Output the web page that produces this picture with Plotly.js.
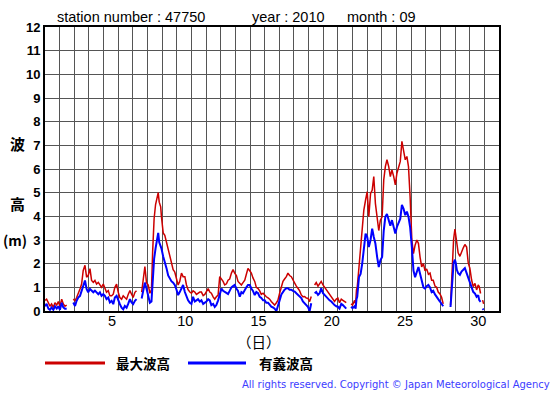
<!DOCTYPE html>
<html>
<head>
<meta charset="utf-8">
<script src="https://cdn.plot.ly/plotly-3.0.1.min.js"></script>
<style>
  html, body { margin: 0; padding: 0; background: #ffffff; }
  #chart { width: 555px; height: 395px; }
</style>
</head>
<body>
<div id="chart"></div>
<script>
// ---- data (days elapsed since 1 Sep 00:00, wave heights in m) ----
const elapsedDays = [
  0, 0.11, 0.23, 0.34, 0.45, 0.57, 0.68, 0.8, 0.91, 1.02, 1.14, 1.25, 1.36, 1.48, 1.7,
  1.93, 2.05, 2.16, 2.27, 2.39, 2.5, 2.61, 2.73, 2.84, 2.95,
  3.07, 3.18, 3.3, 3.41, 3.52, 3.64, 3.75, 3.86, 3.98, 4.09,
  4.2, 4.32, 4.43, 4.55, 4.66, 4.77, 4.89, 5.0, 5.11, 5.23,
  5.34, 5.45, 5.57, 5.68, 5.8, 5.91, 6.02, 6.14, 6.25, 6.4,
  6.6, 6.7, 6.82, 6.93, 7.05, 7.16, 7.27, 7.35, 7.45, 7.55,
  7.65, 7.73, 7.8, 7.9, 7.95, 8.07, 8.18, 8.3, 8.41, 8.52,
  8.64, 8.75, 8.86, 8.98, 9.09, 9.2, 9.32, 9.43, 9.55, 9.66,
  9.77, 9.89, 10.0, 10.11, 10.23, 10.34, 10.45, 10.57, 10.68, 10.8,
  10.91, 11.02, 11.14, 11.25, 11.36, 11.48, 11.59, 11.7, 11.82, 11.93,
  12.05, 12.16, 12.27, 12.39, 12.5, 12.61, 12.73, 12.84, 12.95, 13.07,
  13.18, 13.3, 13.41, 13.52, 13.64, 13.75, 13.86, 13.98, 14.09, 14.2,
  14.32, 14.43, 14.55, 14.66, 14.77, 14.89, 15.0, 15.11, 15.23, 15.34,
  15.45, 15.57, 15.68, 15.8, 15.9, 16.02, 16.14, 16.25, 16.36, 16.48,
  16.59, 16.7, 16.82, 16.93, 17.05, 17.16, 17.27, 17.39, 17.5, 17.61,
  17.73, 17.84, 17.95, 18.07, 18.18, 18.3,
  18.41, 18.52, 18.64, 18.75, 18.86, 18.98, 19.09, 19.2, 19.32, 19.43,
  19.55, 19.66, 19.77, 19.89, 20.0, 20.11, 20.23, 20.34, 20.45, 20.57, 20.68,
  20.9, 21.0, 21.14, 21.21, 21.27, 21.32, 21.44, 21.55, 21.66, 21.77,
  21.89, 22.0, 22.11, 22.23, 22.34, 22.45, 22.56, 22.68, 22.79, 22.9,
  23.02, 23.13, 23.24, 23.35, 23.47, 23.58, 23.69, 23.81, 23.92, 24.03,
  24.14, 24.26, 24.37, 24.48, 24.6, 24.71, 24.82, 24.93, 25.05, 25.16,
  25.27, 25.39, 25.5, 25.61, 25.72, 25.84, 25.95, 26.06, 26.18, 26.29,
  26.4, 26.51, 26.63, 26.74, 26.85, 26.97, 27.08, 27.19, 27.4,
  27.69, 27.76, 27.83, 27.9, 27.99, 28.05, 28.12, 28.21, 28.33, 28.44,
  28.56, 28.67, 28.79, 28.9, 29.01, 29.13, 29.24, 29.36, 29.47, 29.58,
  29.65, 29.74, 29.8, 29.88, 29.95
];
const maxWave = [
  0.45, 0.5, 0.35, 0.2, 0.3, 0.15, 0.35, 0.25, 0.4, 0.2, 0.5, 0.3, 0.2, 0.25, null,
  0.5, 0.43, 0.57, 0.79, 0.93, 1.14, 1.71, 1.93, 1.43, 1.5,
  1.79, 1.29, 1.21, 1.29, 1.14, 1.21, 1.07, 1.0, 1.14, 0.93,
  0.79, 0.86, 0.64, 0.64, 0.71, 1.0, 1.14, 0.79, 0.57, 0.5,
  0.64, 0.57, 0.5, 0.7, 0.86, 0.71, 0.57, 0.79, 0.86, null,
  0.8, 1.4, 1.88, 1.2, 1.1, 0.75, 0.9, 2.5, 3.9, 4.5,
  4.8, 5.0, 4.6, 4.4, 4.0, 3.3, 3.2, 2.9, 2.6, 2.3,
  1.95, 1.75, 1.65, 1.4, 1.1, 1.25, 1.6, 1.45, 1.45, 1.1,
  0.9, 0.8, 0.75, 0.85, 0.8, 0.7, 0.75, 0.8, 0.8, 0.65,
  0.7, 0.85, 0.95, 0.8, 0.75, 0.6, 0.5, 0.6, 0.67, 1.45,
  1.35, 1.25, 1.1, 1.15, 1.3, 1.35, 1.6, 1.75, 1.6, 1.5,
  1.25, 1.15, 1.1, 1.2, 1.3, 1.55, 1.8, 1.7, 1.6, 1.4,
  1.25, 1.0, 0.95, 0.85, 0.7, 0.75, 0.65, 0.6, 0.55, 0.5,
  0.4, 0.3, 0.25, 0.35, 0.45, 0.75, 1.05, 1.25, 1.35, 1.45,
  1.6, 1.5, 1.45, 1.3, 1.18, 1.05, 0.96, 0.85, 0.68, 0.6,
  0.61, 0.55, 0.54, 0.4, 0.61, null,
  1.1, 1.2, 1.05, 1.15, 1.25, 1.1, 1.0, 0.9, 0.82, 0.7,
  0.61, 0.5, 0.4, 0.5, 0.54, 0.35, 0.5, 0.45, 0.4, 0.35, null,
  0.3, 0.25, 0.45, 0.3, 0.9, 1.0, 1.86, 2.56, 3.4, 4.26,
  4.69, 5.04, 3.98, 4.97, 5.1, 5.68, 4.55, 3.98, 3.4, 3.84,
  3.98, 5.54, 6.1, 6.39, 6.1, 5.68, 5.96, 5.68, 5.33, 5.82,
  6.1, 6.32, 7.17, 6.81, 6.39, 6.53, 6.1, 4.83, 3.0, 2.42,
  2.78, 3.0, 2.85, 2.28, 1.86, 2.0, 1.7, 1.78, 1.55, 1.6,
  1.3, 1.3, 1.05, 1.0, 0.8, 0.72, 0.58, 0.3, null,
  0.25, 1.03, 2.17, 3.03, 3.46, 3.17, 2.74, 2.46, 2.31, 2.52,
  2.67, 2.81, 2.7, 2.03, 1.81, 1.31, 1.03, 1.17, 0.89, 1.1,
  1.03, 0.74, null, 0.46, 0.3
];
const sigWave = [
  0.2, 0.3, 0.1, 0.05, 0.15, 0.05, 0.2, 0.1, 0.2, 0.05, 0.35, 0.15, 0.1, 0.1, null,
  0.36, 0.21, 0.43, 0.57, 0.64, 0.86, 1.14, 1.29, 0.93, 0.79,
  0.93, 0.86, 0.79, 0.86, 0.79, 0.71, 0.79, 0.64, 0.71, 0.64,
  0.5, 0.57, 0.36, 0.43, 0.29, 0.57, 0.64, 0.43, 0.29, 0.14,
  0.07, 0.21, 0.14, 0.3, 0.5, 0.36, 0.29, 0.43, 0.5, null,
  0.53, 0.9, 1.2, 0.95, 0.65, 0.35, 0.4, 1.5, 2.2, 2.65,
  3.0, 3.3, 2.9, 2.7, 2.65, 2.3, 2.1, 1.8, 1.5, 1.35,
  1.25, 1.2, 1.1, 0.9, 0.67, 0.8, 0.95, 1.1, 0.8, 0.6,
  0.45, 0.35, 0.3, 0.6, 0.4, 0.45, 0.5, 0.4, 0.45, 0.3,
  0.35, 0.4, 0.5, 0.45, 0.25, 0.3, 0.17, 0.25, 0.45, 0.67,
  0.95, 0.85, 0.8, 0.75, 0.72, 0.85, 1.0, 1.05, 1.1, 0.95,
  0.85, 0.6, 0.8, 0.75, 0.9, 1.0, 1.1, 1.1, 0.95, 0.85,
  0.67, 0.8, 0.75, 0.6, 0.55, 0.45, 0.45, 0.35, 0.35, 0.25,
  0.18, 0.15, 0.1, 0.0, 0.25, 0.45, 0.7, 0.82, 0.9, 0.96,
  0.96, 0.9, 0.9, 0.85, 0.82, 0.75, 0.68, 0.6, 0.55, 0.4,
  0.33, 0.25, 0.18, 0.0, 0.33, null,
  0.75, 0.8, 0.68, 0.75, 0.96, 0.75, 0.68, 0.6, 0.54, 0.45,
  0.4, 0.3, 0.25, 0.2, 0.18, 0.1, 0.3, 0.25, 0.18, 0.1, null,
  0.18, 0.12, 0.2, 0.1, 0.5, 0.6, 1.43, 1.57, 2.0, 2.7,
  3.27, 3.13, 2.7, 3.0, 3.48, 3.13, 2.85, 2.28, 1.86, 2.14,
  2.28, 3.4, 3.98, 4.1, 3.84, 3.6, 3.84, 3.55, 3.27, 3.55,
  3.7, 3.9, 4.48, 4.33, 4.05, 4.2, 3.98, 3.55, 2.7, 1.71,
  1.43, 1.71, 1.86, 1.57, 1.22, 1.0, 0.95, 1.05, 1.1, 1.0,
  0.8, 0.85, 0.7, 0.58, 0.5, 0.4, 0.3, 0.2, null,
  0.17, 0.74, 1.46, 2.03, 2.17, 2.03, 1.74, 1.6, 1.53, 1.67,
  1.74, 1.81, 1.6, 1.39, 1.24, 1.03, 0.81, 0.74, 0.6, 0.67,
  0.46, 0.39, null, 0.1, 0.05
];
const dayLabels = [5, 10, 15, 20, 25, 30];
const yTicks = [0,1,2,3,4,5,6,7,8,9,10,11,12];
const seriesNames = ['最大波高', '有義波高'];
const titleParts = ['station number : 47750', 'year : 2010', 'month : 09'];

if (elapsedDays.length !== maxWave.length || elapsedDays.length !== sigWave.length) {
  console.error('length mismatch', elapsedDays.length, maxWave.length, sigWave.length);
}

// ---- layout helpers (pixel -> paper) ----
const W = 555, H = 395, L = 45, R = 499, T = 27, B = 311;
const px = x => (x - L) / (R - L);
const py = y => (B - y) / (B - T);

const RED = '#cc0000', BLUE = '#0000ff';
const gridColor = '#555555';
const sans = 'Liberation Sans, Arial, sans-serif';
const cjk = 'Noto Sans CJK JP, sans-serif';

const traces = [
  { x: elapsedDays, y: maxWave, name: seriesNames[0], type: 'scatter', mode: 'lines',
    line: { color: RED, width: 1.5 }, connectgaps: false, hoverinfo: 'skip' },
  { x: elapsedDays, y: sigWave, name: seriesNames[1], type: 'scatter', mode: 'lines',
    line: { color: BLUE, width: 2 }, connectgaps: false, hoverinfo: 'skip' }
];

const ann = [];
const titleX = [55, 250, 345];
titleParts.forEach((t, i) => ann.push({
  text: t, xref: 'paper', yref: 'paper', x: px(titleX[i]), y: py(17),
  xanchor: 'left', yanchor: 'middle', showarrow: false,
  font: { family: sans, size: 14.5, color: '#000' }
}));
[['波', 143, 15, 17], ['高', 204, 15, 17], ['(m)', 240, 14, 15]].forEach(([t, y, s, x]) => ann.push({
  text: t, xref: 'paper', yref: 'paper', x: px(x), y: py(y),
  xanchor: 'center', yanchor: 'middle', showarrow: false,
  font: { family: cjk, size: s, color: '#000', weight: 'bold' }
}));
ann.push({ text: '（日）', xref: 'paper', yref: 'paper', x: px(259), y: py(330),
  xanchor: 'center', yanchor: 'top', showarrow: false, borderpad: 0,
  font: { family: cjk, size: 14.5, color: '#000' } });
ann.push({ text: seriesNames[0], xref: 'paper', yref: 'paper', x: px(114), y: py(363),
  xanchor: 'left', yanchor: 'middle', showarrow: false,
  font: { family: cjk, size: 13.5, color: '#000', weight: 'bold' } });
ann.push({ text: seriesNames[1], xref: 'paper', yref: 'paper', x: px(257), y: py(363),
  xanchor: 'left', yanchor: 'middle', showarrow: false,
  font: { family: cjk, size: 13.5, color: '#000', weight: 'bold' } });
ann.push({ text: 'All rights reserved. Copyright © Japan Meteorological Agency',
  xref: 'paper', yref: 'paper', x: px(240), y: py(384),
  xanchor: 'left', yanchor: 'middle', showarrow: false,
  font: { family: 'DejaVu Sans, sans-serif', size: 10, color: '#3c3cff' } });

const shapes = [
  { type: 'line', xref: 'paper', yref: 'paper', x0: px(45), x1: px(105), y0: py(363), y1: py(363),
    line: { color: RED, width: 3 } },
  { type: 'line', xref: 'paper', yref: 'paper', x0: px(188), x1: px(246), y0: py(363), y1: py(363),
    line: { color: BLUE, width: 3 } }
];

const layout = {
  width: W, height: H,
  margin: { l: L, r: W - R, t: T, b: H - B, pad: 0 },
  paper_bgcolor: '#ffffff', plot_bgcolor: '#ffffff',
  showlegend: false,
  xaxis: {
    range: [0, 31], fixedrange: true,
    tickmode: 'array', tickvals: dayLabels.map(d => d - 0.42), ticktext: dayLabels.map(String),
    showgrid: false, zeroline: false,
    ticks: '', ticklabelstandoff: -4, tickfont: { family: sans, size: 14.5, color: '#000' },
    showline: true, mirror: true, linecolor: '#000', linewidth: 2,
    minor: { tickmode: 'linear', tick0: 0, dtick: 1, showgrid: true, gridcolor: gridColor, gridwidth: 1, ticks: '' }
  },
  yaxis: {
    range: [0, 12], fixedrange: true,
    tickmode: 'array', tickvals: yTicks, ticktext: yTicks.map(String),
    showgrid: true, gridcolor: gridColor, gridwidth: 1, zeroline: false,
    ticks: '', tickfont: { family: sans, size: 13, color: '#000', weight: 'bold' },
    showline: true, mirror: true, linecolor: '#000', linewidth: 2
  },
  annotations: ann,
  shapes: shapes
};

Plotly.newPlot('chart', traces, layout, { staticPlot: true, displayModeBar: false });
</script>
</body>
</html>
